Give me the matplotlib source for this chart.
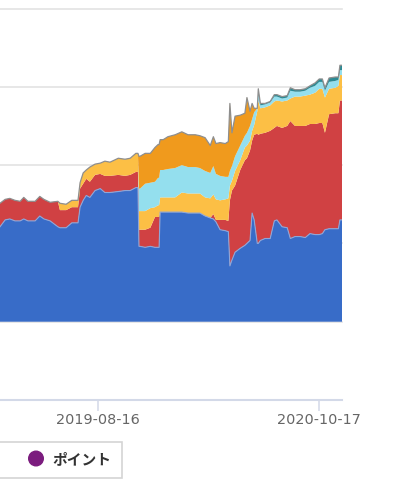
import numpy as np
import pandas as pd
import matplotlib
matplotlib.use("Agg")
import matplotlib.pyplot as plt
from matplotlib.patches import Rectangle, Circle

plt.rcParams['font.family'] = ['DejaVu Sans', 'Noto Sans CJK JP']

# days counted from the first visible date
start = pd.Timestamp("2019-02-07")
day_offsets = [0, 10, 19, 29, 39, 46, 54, 68, 77, 85,
               97, 112, 116, 128, 139, 151, 155, 161, 167, 174,
               184, 194, 203, 213, 229, 242, 252, 263, 267, 269,
               271, 281, 291, 300, 306, 308, 310, 316, 325, 339,
               352, 364, 378, 387, 397, 407, 413, 418, 426, 436,
               442, 445, 449, 455, 465, 474, 478, 484, 488, 492,
               498, 500, 504, 513, 523, 531, 536, 546, 556, 562,
               571, 581, 591, 600, 610, 618, 624, 629, 637, 649,
               655, 658, 662]

blue = [97, 104, 105, 103, 103, 105, 103, 103, 108, 105,
        103, 97, 96, 96, 101, 101, 117, 124, 129, 127,
        134, 136, 132, 132, 133, 134, 134, 137, 137, 77,
        77, 76, 77, 76, 76, 76, 112, 112, 112, 112,
        112, 111, 111, 111, 108, 106, 105, 102, 94, 93,
        92, 57, 63, 71, 75, 78, 80, 83, 111, 104,
        80, 80, 83, 85, 85, 103, 104, 97, 96, 85,
        87, 87, 86, 90, 89, 89, 90, 94, 95, 95,
        95, 104, 104]

red = [24, 21, 21, 21, 20, 22, 20, 20, 20, 20,
       19, 26, 18, 18, 16, 16, 19, 17, 17, 16,
       16, 15, 17, 17, 17, 15, 16, 16, 16, 17,
       17, 18, 19, 31, 31, 31, 0, 0, 0, 0,
       0, 0, 0, 0, 0, 0, 5, 2, 10, 11,
       11, 67, 71, 68, 80, 87, 87, 92, 74, 87,
       112, 111, 109, 108, 110, 95, 96, 101, 104, 120,
       113, 113, 114, 112, 113, 114, 113, 99, 117, 118,
       118, 122, 122]

yellow = [0, 0, 0, 0, 0, 0, 0, 0, 0, 0,
          0, 0, 7, 6, 7, 7, 6, 11, 9, 15,
          11, 11, 15, 14, 17, 17, 17, 19, 19, 19,
          19, 19, 20, 10, 12, 12, 15, 15, 15, 15,
          20, 20, 20, 20, 19, 20, 20, 21, 20, 21,
          23, 15, 10, 15, 10, 13, 13, 10, 10, 10,
          23, 35, 26, 26, 26, 27, 26, 27, 26, 23,
          30, 30, 31, 30, 32, 35, 35, 36, 26, 26,
          28, 26, 26]

cyan = [0] * 29 + [23, 23, 28, 26, 26, 28, 28, 28, 28, 29,
                   30, 28, 27, 27, 26, 27, 26, 29, 26, 25,
                   23, 22, 15, 15, 15, 15, 12, 13, 15, 12,
                   13,
                   3, 10, 3, 3, 3, 5, 4, 3, 3, 8,
                   5, 5, 5, 7, 7, 7, 7, 7, 7, 7,
                   6, 5, 5]

orange = [0] * 29 + [33, 33, 31, 30, 35, 34, 34, 31, 31, 33,
                     34, 34, 33, 33, 33, 34, 28, 30, 31, 34,
                     34, 36, 69, 34, 41, 31, 23, 36, 15, 16,
                     4] + [0] * 23

teal = [0] * 60 + [0, 2, 2, 1, 1, 2, 2, 2, 2, 3,
                   2, 2, 2, 2, 3, 3, 3, 3, 4, 4,
                   3, 5, 5]

colors = ["#386cc8", "#d04143", "#fcbf45", "#94dfee", "#f09a1d", "#2c8a94"]
grid_values = [0, 80, 160, 240, 320]
tick_dates = ["2019-08-16", "2020-10-17"]
legend_label = "ポイント"


def main():
    fig = plt.figure(figsize=(3.99, 4.91), dpi=100)
    ax = fig.add_axes([0, 91 / 491, 342 / 399, 391.5 / 491])

    dates = start + pd.to_timedelta(day_offsets, unit="D")
    series = [blue, red, yellow, cyan, orange, teal]
    ax.stackplot(dates, *series, colors=colors, linewidth=0)
    levels = np.cumsum(np.array(series), axis=0)
    ax.plot(dates, levels[0], color="#8ea6d8", lw=0.8)
    ax.plot(dates, levels[-1], color="#8e8e8e", lw=0.9)

    for v in grid_values:
        ax.axhline(v, color="#e3e3e3", lw=1.2, zorder=0, clip_on=False)

    ax.set_xlim(dates[0], dates[-1])
    ax.set_ylim(-80, 320)
    for side in ("top", "left", "right"):
        ax.spines[side].set_visible(False)
    ax.spines["bottom"].set_color("#d3d9e8")
    ax.spines["bottom"].set_linewidth(1.5)
    ax.set_yticks([])
    ax.set_xticks(pd.to_datetime(tick_dates))
    ax.set_xticklabels(tick_dates)
    ax.tick_params(axis="x", length=8, width=1.1, color="#d3d9e8",
                   labelcolor="#666666", labelsize=10.4, pad=1)

    # legend box, partly cut off on the left like the screenshot
    lg = fig.add_axes([0, 0, 1, 1])
    lg.set_xlim(0, 399)
    lg.set_ylim(491, 0)
    lg.axis("off")
    lg.add_patch(Rectangle((-2, 442), 124, 36, fill=False,
                           edgecolor="#d4d4d4", lw=1.2))
    lg.add_patch(Circle((36, 458.5), 7.3, color="#7b1c7e"))
    lg.text(52, 459, legend_label, fontsize=10.6, fontweight="bold",
            color="#333333", va="center", ha="left",
            family=["Noto Sans CJK JP", "DejaVu Sans"])

    fig.savefig("out.png", dpi=100)


if __name__ == "__main__":
    main()
